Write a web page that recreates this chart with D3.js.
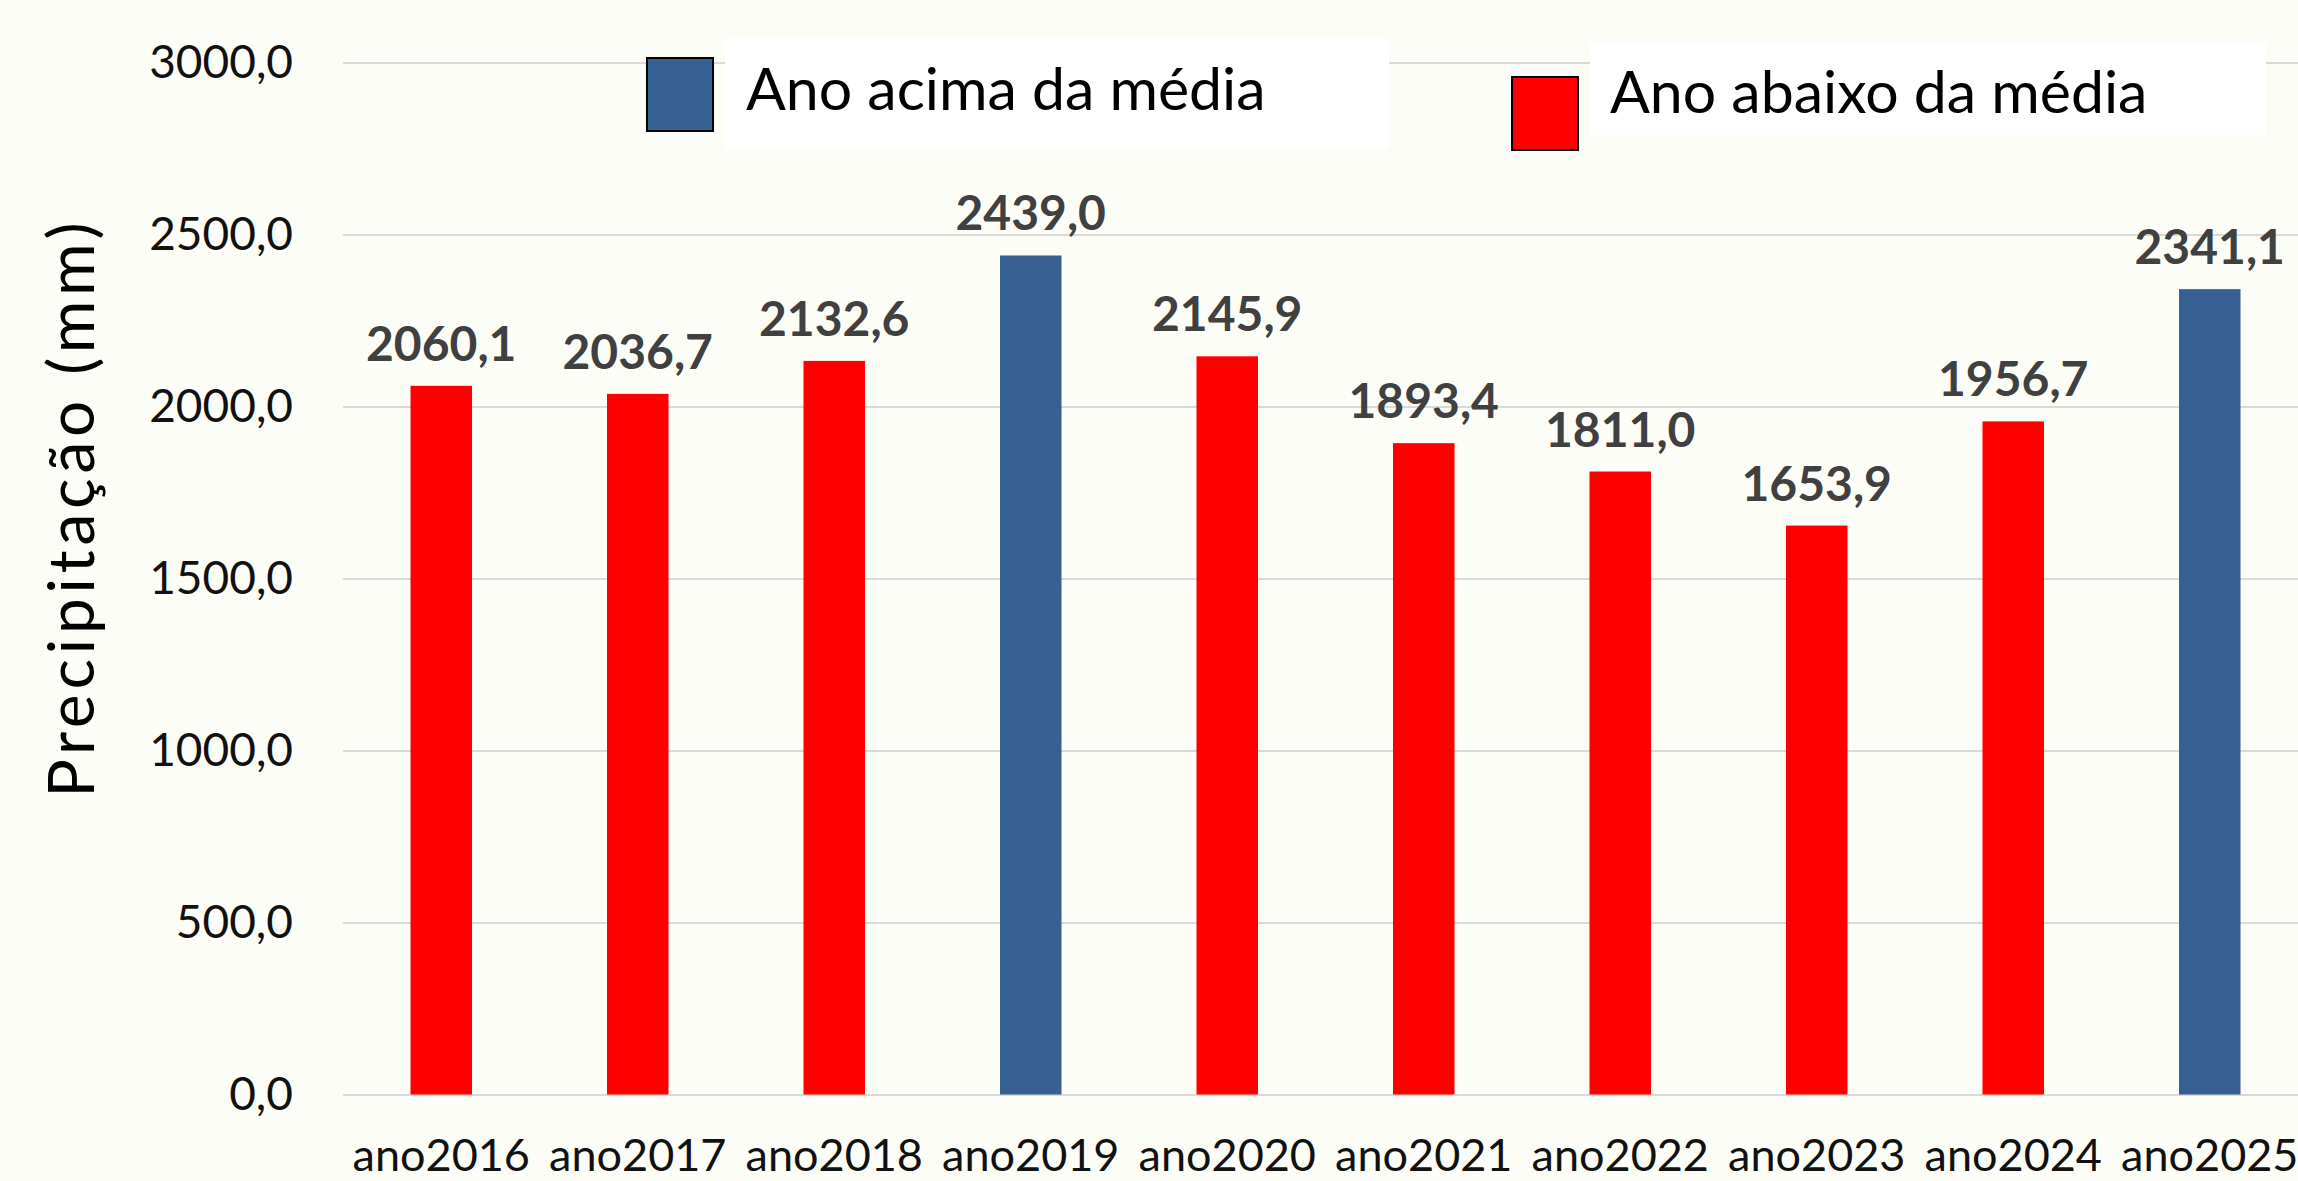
<!DOCTYPE html>
<html>
<head>
<meta charset="utf-8">
<script src="https://cdn.jsdelivr.net/npm/d3@7"></script>
<style>
  html, body { margin:0; padding:0; background:#fdfdf8; }
  svg { display:block; font-family: Lato, "Open Sans", sans-serif; }
</style>
</head>
<body>
<div id="chart"></div>
<script>
// data
var years = ["ano2016","ano2017","ano2018","ano2019","ano2020","ano2021","ano2022","ano2023","ano2024","ano2025"];
var precip = [2060.1, 2036.7, 2132.6, 2439.0, 2145.9, 1893.4, 1811.0, 1653.9, 1956.7, 2341.1];
var yearClass = ["abaixo","abaixo","abaixo","acima","abaixo","abaixo","abaixo","abaixo","abaixo","acima"];
var yTicks = [0, 500, 1000, 1500, 2000, 2500, 3000];
var legendLabels = ["Ano acima da média", "Ano abaixo da média"];

var W = 2298, H = 1181;
var colors = {acima:"#376092", abaixo:"#ff0000"};
var fmt = d3.formatLocale({decimal:",", thousands:".", grouping:[3], currency:["R$",""]}).format(".1f");

var svg = d3.select("#chart").append("svg")
  .attr("width", W)
  .attr("height", H);

svg.append("rect").attr("width", W).attr("height", H).style("fill", "#fdfdf8");

var x = d3.scaleBand().domain(years).range([343, 2308]).paddingInner(0.687).paddingOuter(0.3435);
var y = d3.scaleLinear().domain([0, 3000]).range([1094.5, 62.5]);

//y axis with gridlines
var gy = svg.append("g")
  .attr("transform", "translate(343,0)")
  .call(d3.axisLeft(y).tickValues(yTicks).tickSize(-(W-343)).tickPadding(50).tickFormat(fmt));
gy.select(".domain").remove();
gy.selectAll(".tick line").style("stroke", "#d9d9d9").style("stroke-width", 2);
gy.selectAll(".tick text")
  .style("font-family", "Lato, sans-serif")
  .style("font-size", "46px")
  .style("fill", "#111");

//x axis labels
var gx = svg.append("g")
  .attr("transform", "translate(0,1094.5)")
  .call(d3.axisBottom(x).tickSize(0).tickPadding(45));
gx.select(".domain").remove();
gx.selectAll(".tick text")
  .style("font-family", "Lato, sans-serif")
  .style("font-size", "45px")
  .style("fill", "#111");

//legend boxes (white panels sit over the top gridline)
var legend = svg.append("g").attr("class", "legend");
legend.append("rect").attr("x", 725).attr("y", 38).attr("width", 664).attr("height", 110).style("fill", "#fff");
legend.append("rect").attr("x", 1590).attr("y", 42).attr("width", 676).attr("height", 93).style("fill", "#fff");

legend.append("rect").attr("x", 647).attr("y", 58).attr("width", 66).attr("height", 73)
  .style("fill", colors.acima).style("stroke", "#000").style("stroke-width", 2);
legend.append("text").attr("x", 746).attr("y", 110).text(legendLabels[0])
  .style("font-size", "59px").style("fill", "#000");

legend.append("rect").attr("x", 1512).attr("y", 77).attr("width", 66).attr("height", 73)
  .style("fill", colors.abaixo).style("stroke", "#000").style("stroke-width", 2);
legend.append("text").attr("x", 1610).attr("y", 113).text(legendLabels[1])
  .style("font-size", "59px").style("fill", "#000");

//bars
var data = years.map(function(d, i){ return {year:d, value:precip[i], cls:yearClass[i]}; });

svg.append("g").selectAll("rect")
  .data(data)
  .enter().append("rect")
  .attr("x", function(d){ return x(d.year); })
  .attr("y", function(d){ return y(d.value); })
  .attr("width", x.bandwidth())
  .attr("height", function(d){ return y(0) - y(d.value); })
  .style("fill", function(d){ return colors[d.cls]; });

//value labels
svg.append("g").selectAll("text")
  .data(data)
  .enter().append("text")
  .attr("x", function(d){ return x(d.year) + x.bandwidth()/2; })
  .attr("y", function(d){ return y(d.value) - 25; })
  .attr("text-anchor", "middle")
  .text(function(d){ return fmt(d.value); })
  .style("font-size", "48px")
  .style("font-weight", "bold")
  .style("fill", "#404040");

//y title
svg.append("text")
  .attr("transform", "translate(94,510) rotate(-90)")
  .attr("text-anchor", "middle")
  .attr("textLength", 575)
  .attr("lengthAdjust", "spacing")
  .text("Precipitação (mm)")
  .style("font-size", "64px")
  .style("fill", "#000");
</script>
</body>
</html>
